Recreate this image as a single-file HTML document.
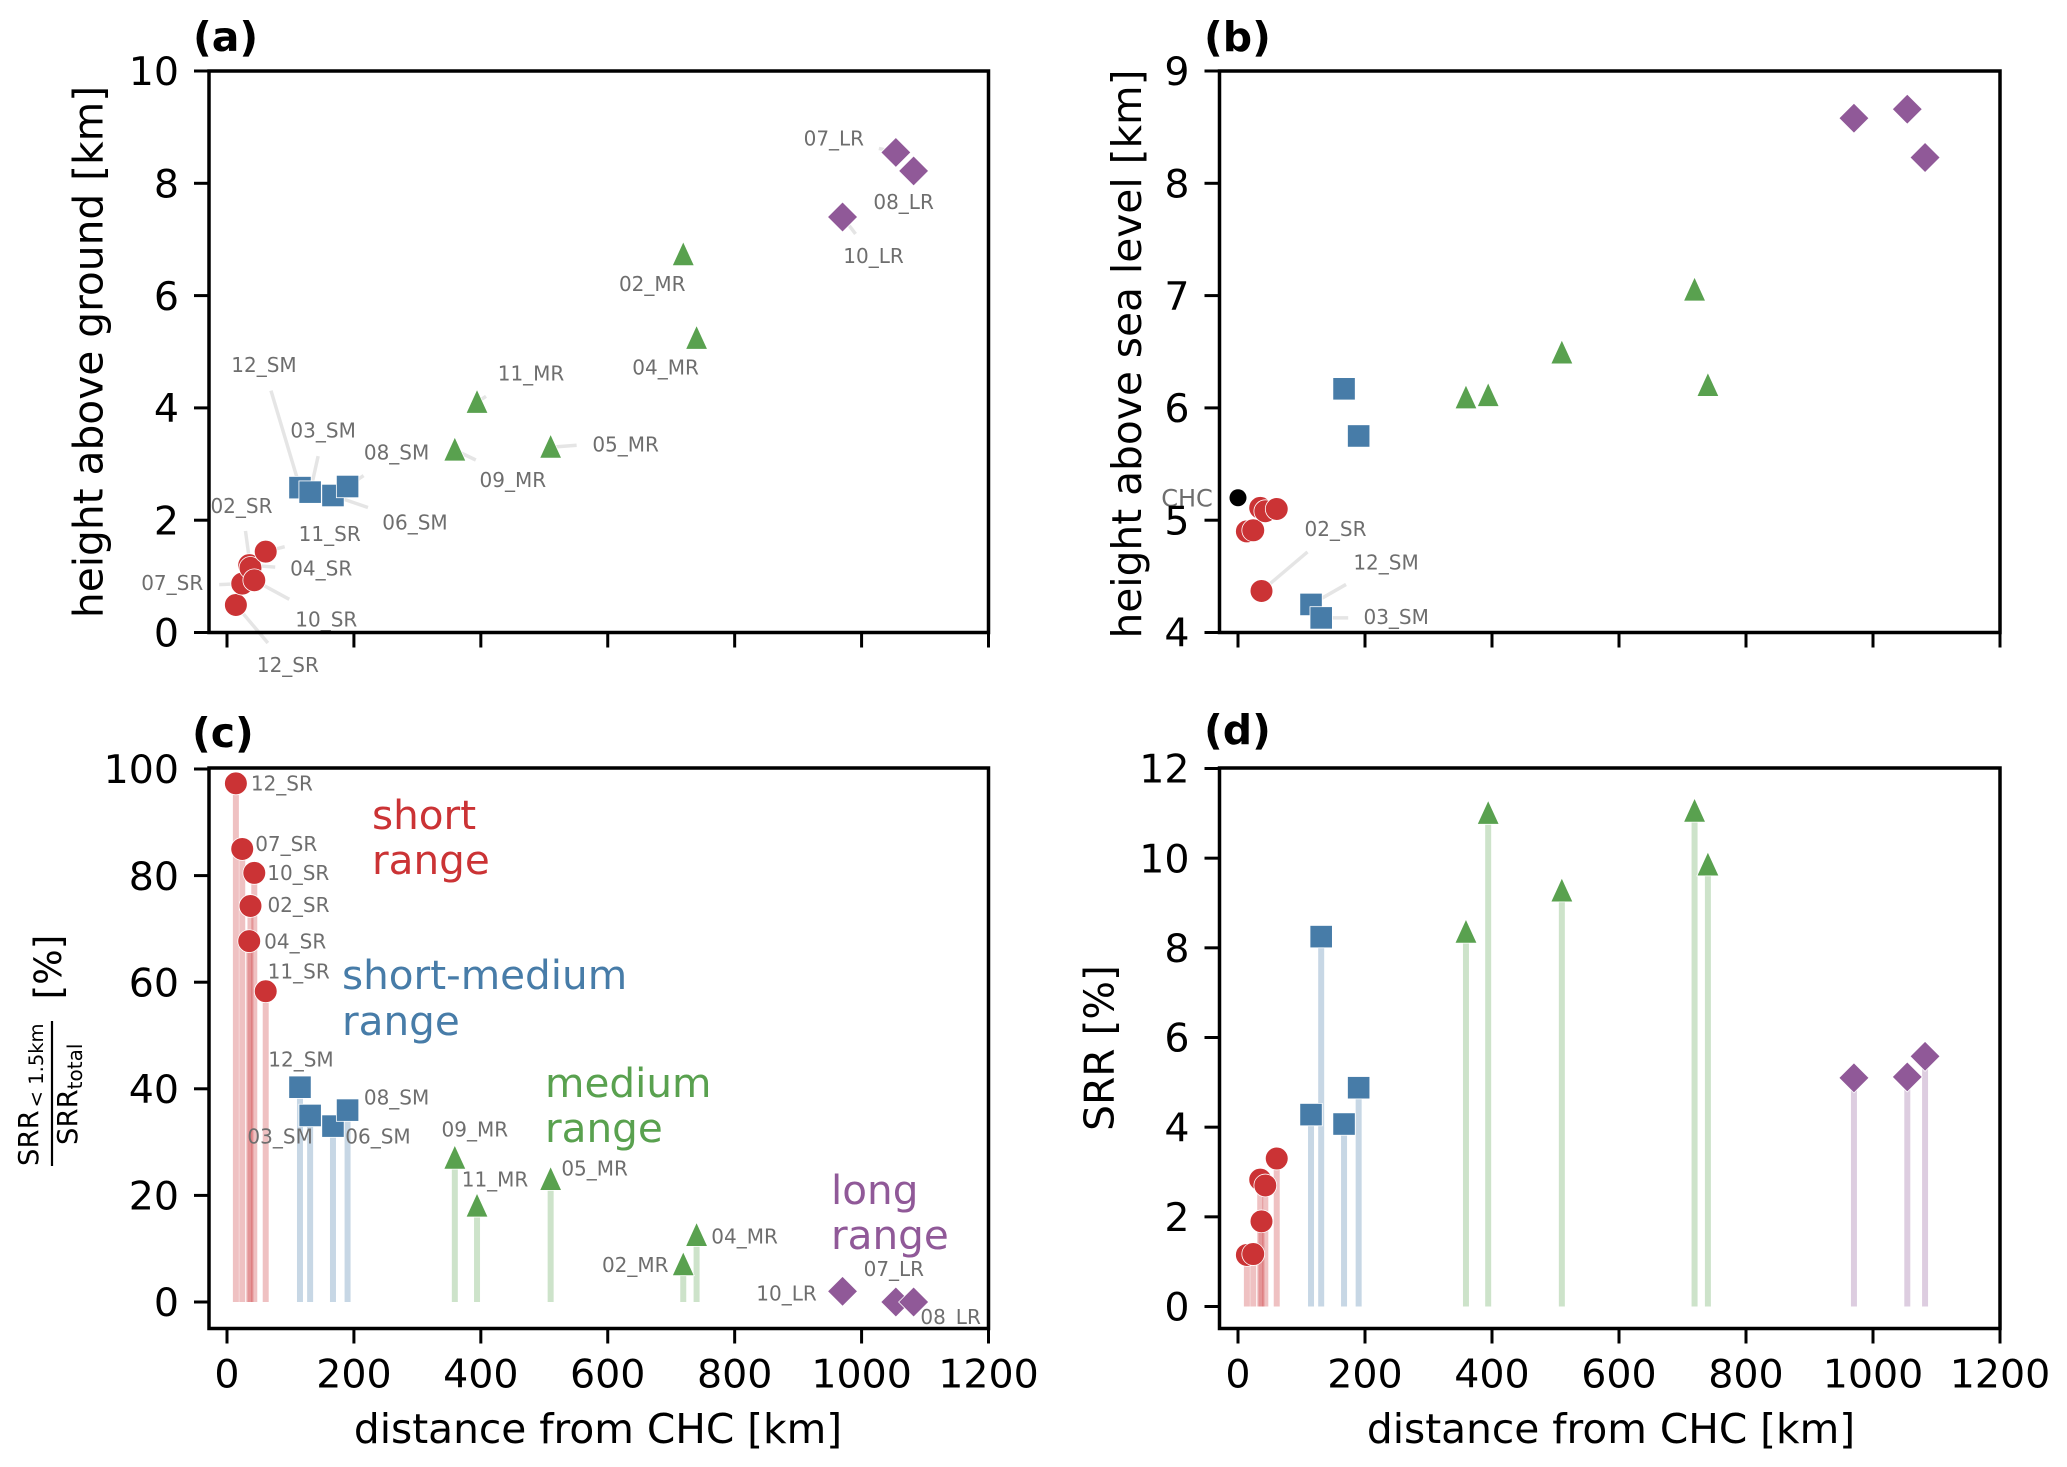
<!DOCTYPE html>
<html lang="en">
<head>
<meta charset="utf-8">
<title>SRR source regions by distance from CHC</title>
<style>
html,body{margin:0;padding:0;background:#fff;width:2067px;height:1467px;overflow:hidden}
svg{display:block;font-family:"DejaVu Sans","Liberation Sans",sans-serif}
.axis-title{font-size:40.7px;fill:#000}
.panel-letter{font-size:41px;font-weight:bold;fill:#000}
.group-label{font-size:40.5px}
</style>
</head>
<body>
<svg id="chart" xmlns="http://www.w3.org/2000/svg" width="2067" height="1467" viewBox="0 0 2067 1467">
  <rect width="2067" height="1467" fill="#fff"/>
  <g id="marks"></g>

  <text class="panel-letter" x="193" y="51">(a)</text>
  <text class="panel-letter" x="1204" y="51">(b)</text>
  <text class="panel-letter" x="192" y="747">(c)</text>
  <text class="panel-letter" x="1204" y="744">(d)</text>

  <text class="axis-title" text-anchor="middle" transform="translate(102.5 352) rotate(-90)">height above ground [km]</text>
  <text class="axis-title" text-anchor="middle" transform="translate(1141 354) rotate(-90)">height above sea level [km]</text>
  <text class="axis-title" text-anchor="middle" transform="translate(1113.5 1048) rotate(-90)">SRR [%]</text>
  <text class="axis-title" text-anchor="middle" x="598" y="1443">distance from CHC [km]</text>
  <text class="axis-title" text-anchor="middle" x="1611" y="1443">distance from CHC [km]</text>

  <g fill="#000">
    <text transform="translate(38 1166) rotate(-90)" font-size="27.5">SRR<tspan font-size="19.5" dy="5" dx="3">&lt; 1.5km</tspan></text>
    <line x1="52" x2="52" y1="1021" y2="1166" stroke="#000" stroke-width="2.2"/>
    <text transform="translate(77 1145) rotate(-90)" font-size="27.5">SRR<tspan font-size="20" dy="5">total</tspan></text>
    <text text-anchor="middle" transform="translate(61 967) rotate(-90)" font-size="37.5">[%]</text>
  </g>

  <g>
    <text class="group-label" fill="#cb3335" x="372" y="829">short</text>
    <text class="group-label" fill="#cb3335" x="372" y="874">range</text>
    <text class="group-label" fill="#477ca8" x="342" y="989">short-medium</text>
    <text class="group-label" fill="#477ca8" x="342" y="1035">range</text>
    <text class="group-label" fill="#59a14f" x="545" y="1097">medium</text>
    <text class="group-label" fill="#59a14f" x="545" y="1142">range</text>
    <text class="group-label" fill="#905998" x="831" y="1204">long</text>
    <text class="group-label" fill="#905998" x="831" y="1249">range</text>
  </g>
</svg>
<script>
// ---- data ----
const stations = ['12_SR','07_SR','04_SR','02_SR','10_SR','11_SR','12_SM','03_SM','06_SM','08_SM','09_MR','11_MR','05_MR','02_MR','04_MR','10_LR','07_LR','08_LR'];
const rangeClass = ['short','short','short','short','short','short','smedium','smedium','smedium','smedium','medium','medium','medium','medium','medium','long','long','long'];
const distanceKm = [14,24,35,37,43,61,115,131,167,190,359,394,510,719,740,970,1054,1082];
const heightAboveGround = [0.49,0.87,1.2,1.15,0.93,1.44,2.58,2.5,2.44,2.6,3.25,4.1,3.3,6.73,5.24,7.4,8.55,8.22];
const heightAboveSea = [4.9,4.91,5.11,4.37,5.08,5.1,4.25,4.13,6.17,5.75,6.09,6.11,6.49,7.05,6.2,8.58,8.66,8.23];
const srrLowFraction = [97.3,85,67.7,74.3,80.5,58.3,40.3,35,33,36,27,18,23,7,12.5,2,0,0];
const srrPercent = [1.15,1.17,2.83,1.9,2.7,3.3,4.28,8.25,4.07,4.88,8.35,11,9.27,11.05,9.85,5.1,5.12,5.58];
const chcDistance = 0;
const chcHeight = 5.2;
const xTicks = [0,200,400,600,800,1000,1200];
const yTicksA = [0,2,4,6,8,10];
const yTicksB = [4,5,6,7,8,9];
const yTicksC = [0,20,40,60,80,100];
const yTicksD = [0,2,4,6,8,10,12];

// ---- layout (label offsets from their point, px: text dx, dy, leader dx, dy) ----
const colors = {short:'#cb3335',smedium:'#477ca8',medium:'#59a14f',long:'#905998'};
const labelLayoutA = {
  '12_SR':[52,60,32,38],'07_SR':[-70,-1,-23,1],'04_SR':[72,3,26,2],'02_SR':[-9,-62,-5,-37],
  '10_SR':[72,39,35,19],'11_SR':[64,-18,19,-5],'12_SM':[-36,-123,-29,-97],'03_SM':[13,-62,8,-36],
  '06_SM':[82,27,35,12],'08_SM':[49,-34,16,-11],'09_MR':[58,30,21,10],'11_MR':[54,-29,9,-6],
  '05_MR':[75,-3,26,-2],'02_MR':[-31,29],'04_MR':[-31,29],'10_LR':[31,39,13,17],
  '07_LR':[-62,-14,-17,-4],'08_LR':[-10,31]
};
const labelLayoutB = {'02_SR':[74,-62,46,-39],'12_SM':[75,-42,35,-20],'03_SM':[75,-1,27,0]};
const labelLayoutC = {
  '12_SR':[46,0],'07_SR':[44,-5],'10_SR':[44,0],'02_SR':[48,-1],'04_SR':[46,0],'11_SR':[33,-20],
  '12_SM':[1,-28],'03_SM':[-30,21],'06_SM':[45,10],'08_SM':[49,-13],'09_MR':[20,-29],'11_MR':[18,-27],
  '05_MR':[44,-11],'02_MR':[-48,0],'04_MR':[48,1],'10_LR':[-56,2],'07_LR':[-2,-33],'08_LR':[37,15]
};

const panels = [
  {id:'a',l:209,r:988.5,t:71,b:632.5,km0:227,km1200:988.5,yLo:0,yLoPx:632.5,yHi:10,yHiPx:71,ticks:yTicksA,values:heightAboveGround,layout:labelLayoutA,stems:false,xLabels:false,chc:false},
  {id:'b',l:1219.5,r:2000,t:71,b:632.5,km0:1238,km1200:2000,yLo:4,yLoPx:632.5,yHi:9,yHiPx:71,ticks:yTicksB,values:heightAboveSea,layout:labelLayoutB,stems:false,xLabels:false,chc:true},
  {id:'c',l:209,r:988.5,t:768,b:1328.5,km0:227,km1200:988.5,yLo:0,yLoPx:1302,yHi:100,yHiPx:769,ticks:yTicksC,values:srrLowFraction,layout:labelLayoutC,stems:true,xLabels:true,chc:false},
  {id:'d',l:1219.5,r:2000,t:768,b:1328.5,km0:1238,km1200:2000,yLo:0,yLoPx:1306.5,yHi:12,yHiPx:768.5,ticks:yTicksD,values:srrPercent,layout:{},stems:true,xLabels:true,chc:false}
];

const NS = 'http://www.w3.org/2000/svg';
const root = document.getElementById('marks');
function make(tag, attrs, parent) {
  const el = document.createElementNS(NS, tag);
  for (const k in attrs) el.setAttribute(k, attrs[k]);
  parent.appendChild(el);
  return el;
}
function drawMarker(kind, cx, cy, color, parent) {
  let el;
  const edge = {stroke:'#fff','stroke-width':0.8,fill:color};
  if (kind === 'short') {
    el = make('circle', Object.assign({cx:cx, cy:cy, r:11.4}, edge), parent);
  } else if (kind === 'smedium') {
    el = make('rect', Object.assign({x:cx-11.2, y:cy-11.2, width:22.4, height:22.4}, edge), parent);
  } else if (kind === 'medium') {
    const pts = [[cx,cy-13],[cx+11,cy+11],[cx-11,cy+11]].map(p => p.join(',')).join(' ');
    el = make('polygon', Object.assign({points:pts}, edge), parent);
  } else {
    const pts = [[cx,cy-15],[cx+15,cy],[cx,cy+15],[cx-15,cy]].map(p => p.join(',')).join(' ');
    el = make('polygon', Object.assign({points:pts}, edge), parent);
  }
  return el;
}

panels.forEach(p => {
  const xs = km => p.km0 + (km / 1200) * (p.km1200 - p.km0);
  const ys = v => p.yLoPx + (v - p.yLo) / (p.yHi - p.yLo) * (p.yHiPx - p.yLoPx);
  const g = make('g', {}, root);
  
  

  // stems
  if (p.stems) {
    stations.forEach((st, i) => {
      const stem = make('line', {x1:xs(distanceKm[i]), x2:xs(distanceKm[i]), y1:ys(0), y2:ys(p.values[i]), stroke:colors[rangeClass[i]], 'stroke-width':6, 'stroke-opacity':0.3}, g);
      
      
    });
  }

  // annotation leaders
  stations.forEach((st, i) => {
    const lay = p.layout[st];
    if (!lay || lay.length < 4) return;
    const cx = xs(distanceKm[i]), cy = ys(p.values[i]);
    const leader = make('line', {x1:cx, y1:cy, x2:cx + lay[2], y2:cy + lay[3], stroke:'#000', 'stroke-opacity':0.1, 'stroke-width':3.5}, g);
    
    
  });

  // markers
  stations.forEach((st, i) => {
    const m = drawMarker(rangeClass[i], xs(distanceKm[i]), ys(p.values[i]), colors[rangeClass[i]], g);
    
    
  });

  if (p.chc) {
    const chcDot = make('circle', {cx:xs(chcDistance), cy:ys(chcHeight), r:8.5, fill:'#000'}, g);
    
    
    const chcText = make('text', {x:xs(chcDistance) - 51, y:ys(chcHeight), dy:'0.36em', 'text-anchor':'middle', 'font-size':24, fill:'#6e6e6e'}, g);
    chcText.textContent = 'CHC';
    
    
  }

  // annotation text
  stations.forEach((st, i) => {
    const lay = p.layout[st];
    if (!lay) return;
    const t = make('text', {x:xs(distanceKm[i]) + lay[0], y:ys(p.values[i]) + lay[1], dy:'0.36em', 'text-anchor':'middle', 'font-size':20, fill:'#6e6e6e'}, g);
    t.textContent = st;
    
    
  });

  // frame
  const frame = make('rect', {x:p.l, y:p.t, width:p.r - p.l, height:p.b - p.t, fill:'none', stroke:'#000', 'stroke-width':3.5}, g);
  
  

  // x ticks
  xTicks.forEach(v => {
    const tick = make('line', {x1:xs(v), x2:xs(v), y1:p.b, y2:p.b + 15, stroke:'#000', 'stroke-width':3}, g);
    
    
    if (p.xLabels) {
      const lbl = make('text', {x:xs(v), y:p.b + 59, 'text-anchor':'middle', 'font-size':39.5, fill:'#000'}, g);
      lbl.textContent = v;
      
      
    }
  });

  // y ticks
  p.ticks.forEach(v => {
    const tick = make('line', {x1:p.l - 15, x2:p.l, y1:ys(v), y2:ys(v), stroke:'#000', 'stroke-width':3}, g);
    
    
    const lbl = make('text', {x:p.l - 30, y:ys(v), dy:'0.36em', 'text-anchor':'end', 'font-size':39.5, fill:'#000'}, g);
    lbl.textContent = v;
    
    
  });
});
</script>
</body>
</html>
